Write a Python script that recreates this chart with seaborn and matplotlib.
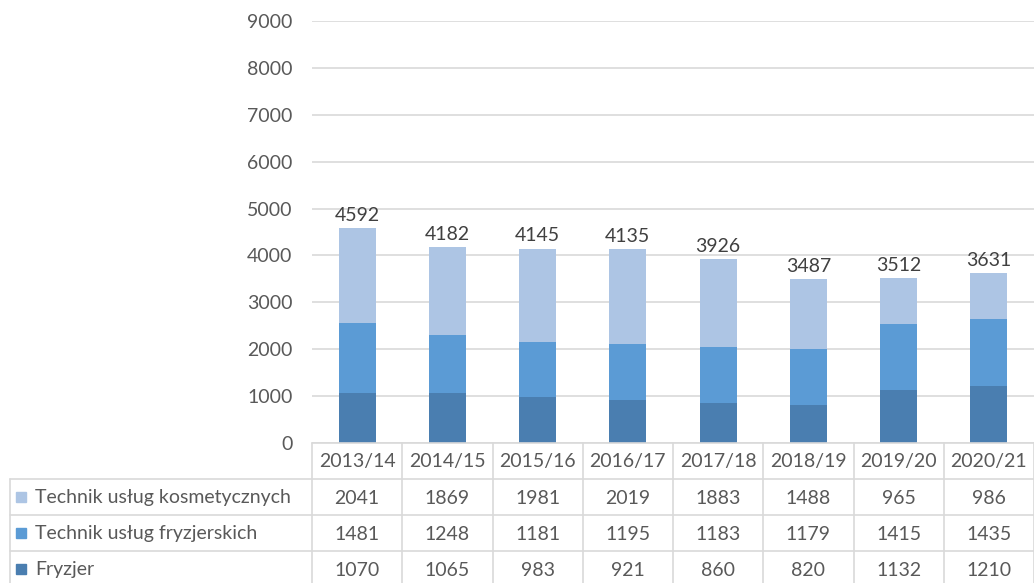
import matplotlib
matplotlib.use("Agg")
import matplotlib.pyplot as plt
import matplotlib.transforms as mtransforms
from matplotlib.patches import Rectangle
import seaborn as sns
import pandas as pd

years = ["2013/14", "2014/15", "2015/16", "2016/17", "2017/18", "2018/19", "2019/20", "2020/21"]
kosmetyczne = [2041, 1869, 1981, 2019, 1883, 1488, 965, 986]
fryzjerskie = [1481, 1248, 1181, 1195, 1183, 1179, 1415, 1435]
fryzjer = [1070, 1065, 983, 921, 860, 820, 1132, 1210]

series_names = ["Technik usług kosmetycznych", "Technik usług fryzjerskich", "Fryzjer"]
colors = ["#ADC5E4", "#5B9BD5", "#4A7EB0"]

df = pd.DataFrame({"rok": years, "kos": kosmetyczne, "fry": fryzjerskie, "fr": fryzjer})
df["l2"] = df["fr"] + df["fry"]
df["total"] = df["l2"] + df["kos"]

sns.set_theme(style="white")
plt.rcParams["font.family"] = ["Lato", "DejaVu Sans"]
txt = "#595959"
fs = 14

W, H = 1034, 583
fig = plt.figure(figsize=(W / 100, H / 100), dpi=100)
ax = fig.add_axes([312 / W, (H - 443) / H, 722 / W, 422 / H])

# stacked bars: draw cumulative heights, tallest first
for col, c in zip(["total", "l2", "fr"], colors):
    sns.barplot(data=df, x="rok", y=col, color=c, width=0.41, saturation=1,
                errorbar=None, linewidth=0, ax=ax)

for i, t in enumerate(df["total"]):
    ax.annotate(str(t), (i, t), xytext=(0, 3), textcoords="offset points",
                ha="center", va="bottom", fontsize=fs, color="#404040")

ax.set_xlim(-0.5, len(years) - 0.5)
ax.set_ylim(0, 9000)
ax.set_yticks(range(0, 9001, 1000))
ax.yaxis.grid(True, color="#D9D9D9", linewidth=1.2)
ax.set_axisbelow(True)
ax.tick_params(axis="y", length=0, pad=14, labelsize=fs, labelcolor=txt)
ax.set_xticks([])
ax.set_xlabel("")
ax.set_ylabel("")
for s in ax.spines.values():
    s.set_visible(False)

# data table below the chart
fa = fig.add_axes([0, 0, 1, 1], facecolor="none")
fa.set_xlim(0, W)
fa.set_ylim(H, 0)
fa.axis("off")
bt = mtransforms.blended_transform_factory(ax.transData, fa.transData)
lc = "#D9D9D9"

row_top = 443
row_h = 36
fa.plot([-0.5, len(years) - 0.5], [row_top, row_top], color=lc, lw=1.2, transform=bt, clip_on=False)
for k in range(1, 4):
    y = row_top + k * row_h
    fa.plot([10, W], [y, y], color=lc, lw=1.2, clip_on=False)
fa.plot([10, 10], [row_top + row_h, H], color=lc, lw=1.2, clip_on=False)
for i in range(len(years) + 1):
    fa.plot([i - 0.5, i - 0.5], [row_top, H], color=lc, lw=1.2, transform=bt, clip_on=False)

for i, yr in enumerate(years):
    fa.text(i, row_top + row_h / 2 + 1, yr, ha="center", va="center", fontsize=fs, color=txt, transform=bt)

rows = [kosmetyczne, fryzjerskie, fryzjer]
for r, (name, vals, c) in enumerate(zip(series_names, rows, colors)):
    yc = row_top + (r + 1.5) * row_h
    fa.add_patch(Rectangle((16, yc - 5), 10, 10, color=c, clip_on=False))
    fa.text(35, yc + 1, name, ha="left", va="center", fontsize=fs, color=txt)
    for i, v in enumerate(vals):
        fa.text(i, yc + 1, str(v), ha="center", va="center", fontsize=fs, color=txt, transform=bt)

fig.savefig("out.png", dpi=100)
